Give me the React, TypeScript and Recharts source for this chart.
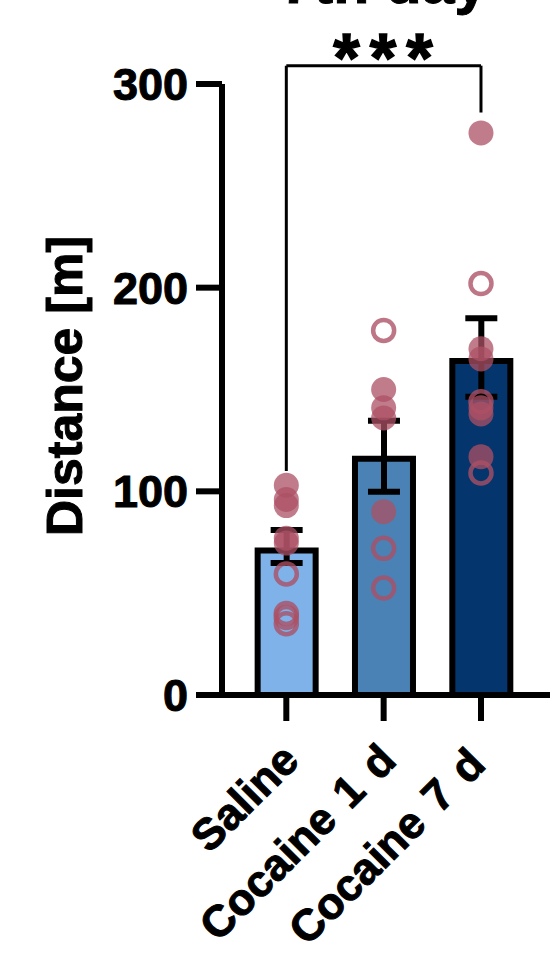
import React from 'react';
import { ComposedChart, Bar, Cell, ErrorBar, Line, XAxis, YAxis, ReferenceLine } from 'recharts';

const categories = ['Saline', 'Cocaine 1 d', 'Cocaine 7 d'];
const means = [71, 116, 164];
const errLow = [6.2, 16.2, 17.6];
const errHigh = [10, 18.7, 21];
const barColors = ['#7fb2e8', '#4a82b5', '#04356c'];
const yTicks = [0, 100, 200, 300];

// animals per group, solid and hollow markers
const filledDots = [
  [103, 96, 93, 77, 74.6],
  [150, 141, 136, 90],
  [276, 170, 165, 141, 138, 117],
];
const openDots = [
  [59.4, 40, 38, 35],
  [179, 72, 52.5],
  [202, 144, 109],
];

const maxFilled = Math.max(...filledDots.map((d) => d.length));
const maxOpen = Math.max(...openDots.map((d) => d.length));

const chartData = categories.map((name, i) => {
  const row: Record<string, any> = { name, mean: means[i], err: [errLow[i], errHigh[i]] };
  filledDots[i].forEach((v, j) => (row[`f${j}`] = v));
  openDots[i].forEach((v, j) => (row[`o${j}`] = v));
  return row;
});

const DOT = '#ac5064';
const FONT = '"Liberation Sans", Arial, sans-serif';

const filledDot = (p: any) =>
  p.value == null ? <g key={p.key} /> : <circle key={p.key} cx={p.cx} cy={p.cy} r={12.5} fill={DOT} fillOpacity={0.75} stroke="none" />;
const openDot = (p: any) =>
  p.value == null ? <g key={p.key} /> : <circle key={p.key} cx={p.cx} cy={p.cy} r={10.5} fill="none" stroke={DOT} strokeOpacity={0.78} strokeWidth={4.5} />;

const XTick = ({ x, y, payload, index }: any) => {
  // last label sits a little closer to its neighbour in the original
  const tx = x - 8 + (index === 2 ? -8 : 0);
  const ty = y + 17 + (index === 2 ? 4 : 0);
  return (
    <text
      x={tx}
      y={ty}
      transform={`rotate(-45 ${tx} ${ty})`}
      textAnchor="end"
      dominantBaseline="hanging"
      fontFamily={FONT}
      fontWeight="bold"
      fontSize={44}
      wordSpacing={4}
      stroke="#000"
      strokeWidth={1}
      fill="#000"
    >
      {payload.value}
    </text>
  );
};

export default function App() {
  return (
    <div style={{ position: 'absolute', left: 0, top: 0, width: 550, height: 973, overflow: 'hidden' }}>
      <ComposedChart
        width={550}
        height={973}
        data={chartData}
        margin={{ top: 84, right: 0, bottom: 0, left: 122 }}
        barCategoryGap={0}
      >
        <XAxis
          dataKey="name"
          padding={{ left: 15.65, right: 20.35 }}
          axisLine={{ stroke: '#000', strokeWidth: 6 }}
          tickLine={{ stroke: '#000', strokeWidth: 6 }}
          tickSize={26}
          height={278}
          interval={0}
          tick={<XTick />}
        />
        <YAxis
          domain={[0, 300]}
          ticks={yTicks}
          width={100}
          axisLine={{ stroke: '#000', strokeWidth: 6 }}
          tickLine={{ stroke: '#000', strokeWidth: 6 }}
          tickSize={26}
          tickMargin={8}
          tick={{ fill: '#000', stroke: '#000', strokeWidth: 1, fontFamily: FONT, fontWeight: 'bold', fontSize: 45 }}
        />
        <Bar dataKey="mean" barSize={58} stroke="#000" strokeWidth={6} isAnimationActive={false}>
          {categories.map((c, i) => (
            <Cell key={c} fill={barColors[i]} />
          ))}
          <ErrorBar dataKey="err" width={16} strokeWidth={6} stroke="#000" isAnimationActive={false} />
        </Bar>
        {Array.from({ length: maxFilled }, (_, j) => (
          <Line key={`f${j}`} dataKey={`f${j}`} stroke="none" dot={filledDot} activeDot={false} isAnimationActive={false} />
        ))}
        {Array.from({ length: maxOpen }, (_, j) => (
          <Line key={`o${j}`} dataKey={`o${j}`} stroke="none" dot={openDot} activeDot={false} isAnimationActive={false} />
        ))}
        <ReferenceLine ifOverflow="visible" stroke="#000" strokeWidth={3} segment={[{ x: 'Saline', y: 110 }, { x: 'Saline', y: 309 }]} />
        <ReferenceLine ifOverflow="visible" stroke="#000" strokeWidth={3} segment={[{ x: 'Saline', y: 309 }, { x: 'Cocaine 7 d', y: 309 }]} />
        <ReferenceLine ifOverflow="visible" stroke="#000" strokeWidth={3} segment={[{ x: 'Cocaine 7 d', y: 309 }, { x: 'Cocaine 7 d', y: 286 }]} />
        <text x={384} y={3} textAnchor="middle" fontFamily={FONT} fontWeight="bold" fontSize={59} stroke="#000" strokeWidth={1} fill="#000">7th day</text>
        <text x={388} y={81} textAnchor="middle" fontFamily={FONT} fontWeight="bold" fontSize={68} letterSpacing={10} stroke="#000" strokeWidth={1.5} fill="#000">***</text>
        <text
          x={82}
          y={386}
          transform="rotate(-90 82 386)"
          textAnchor="middle"
          fontFamily={FONT}
          fontWeight="bold"
          fontSize={50}
          stroke="#000"
          strokeWidth={1}
          fill="#000"
        >
          Distance [m]
        </text>
      </ComposedChart>
    </div>
  );
}
